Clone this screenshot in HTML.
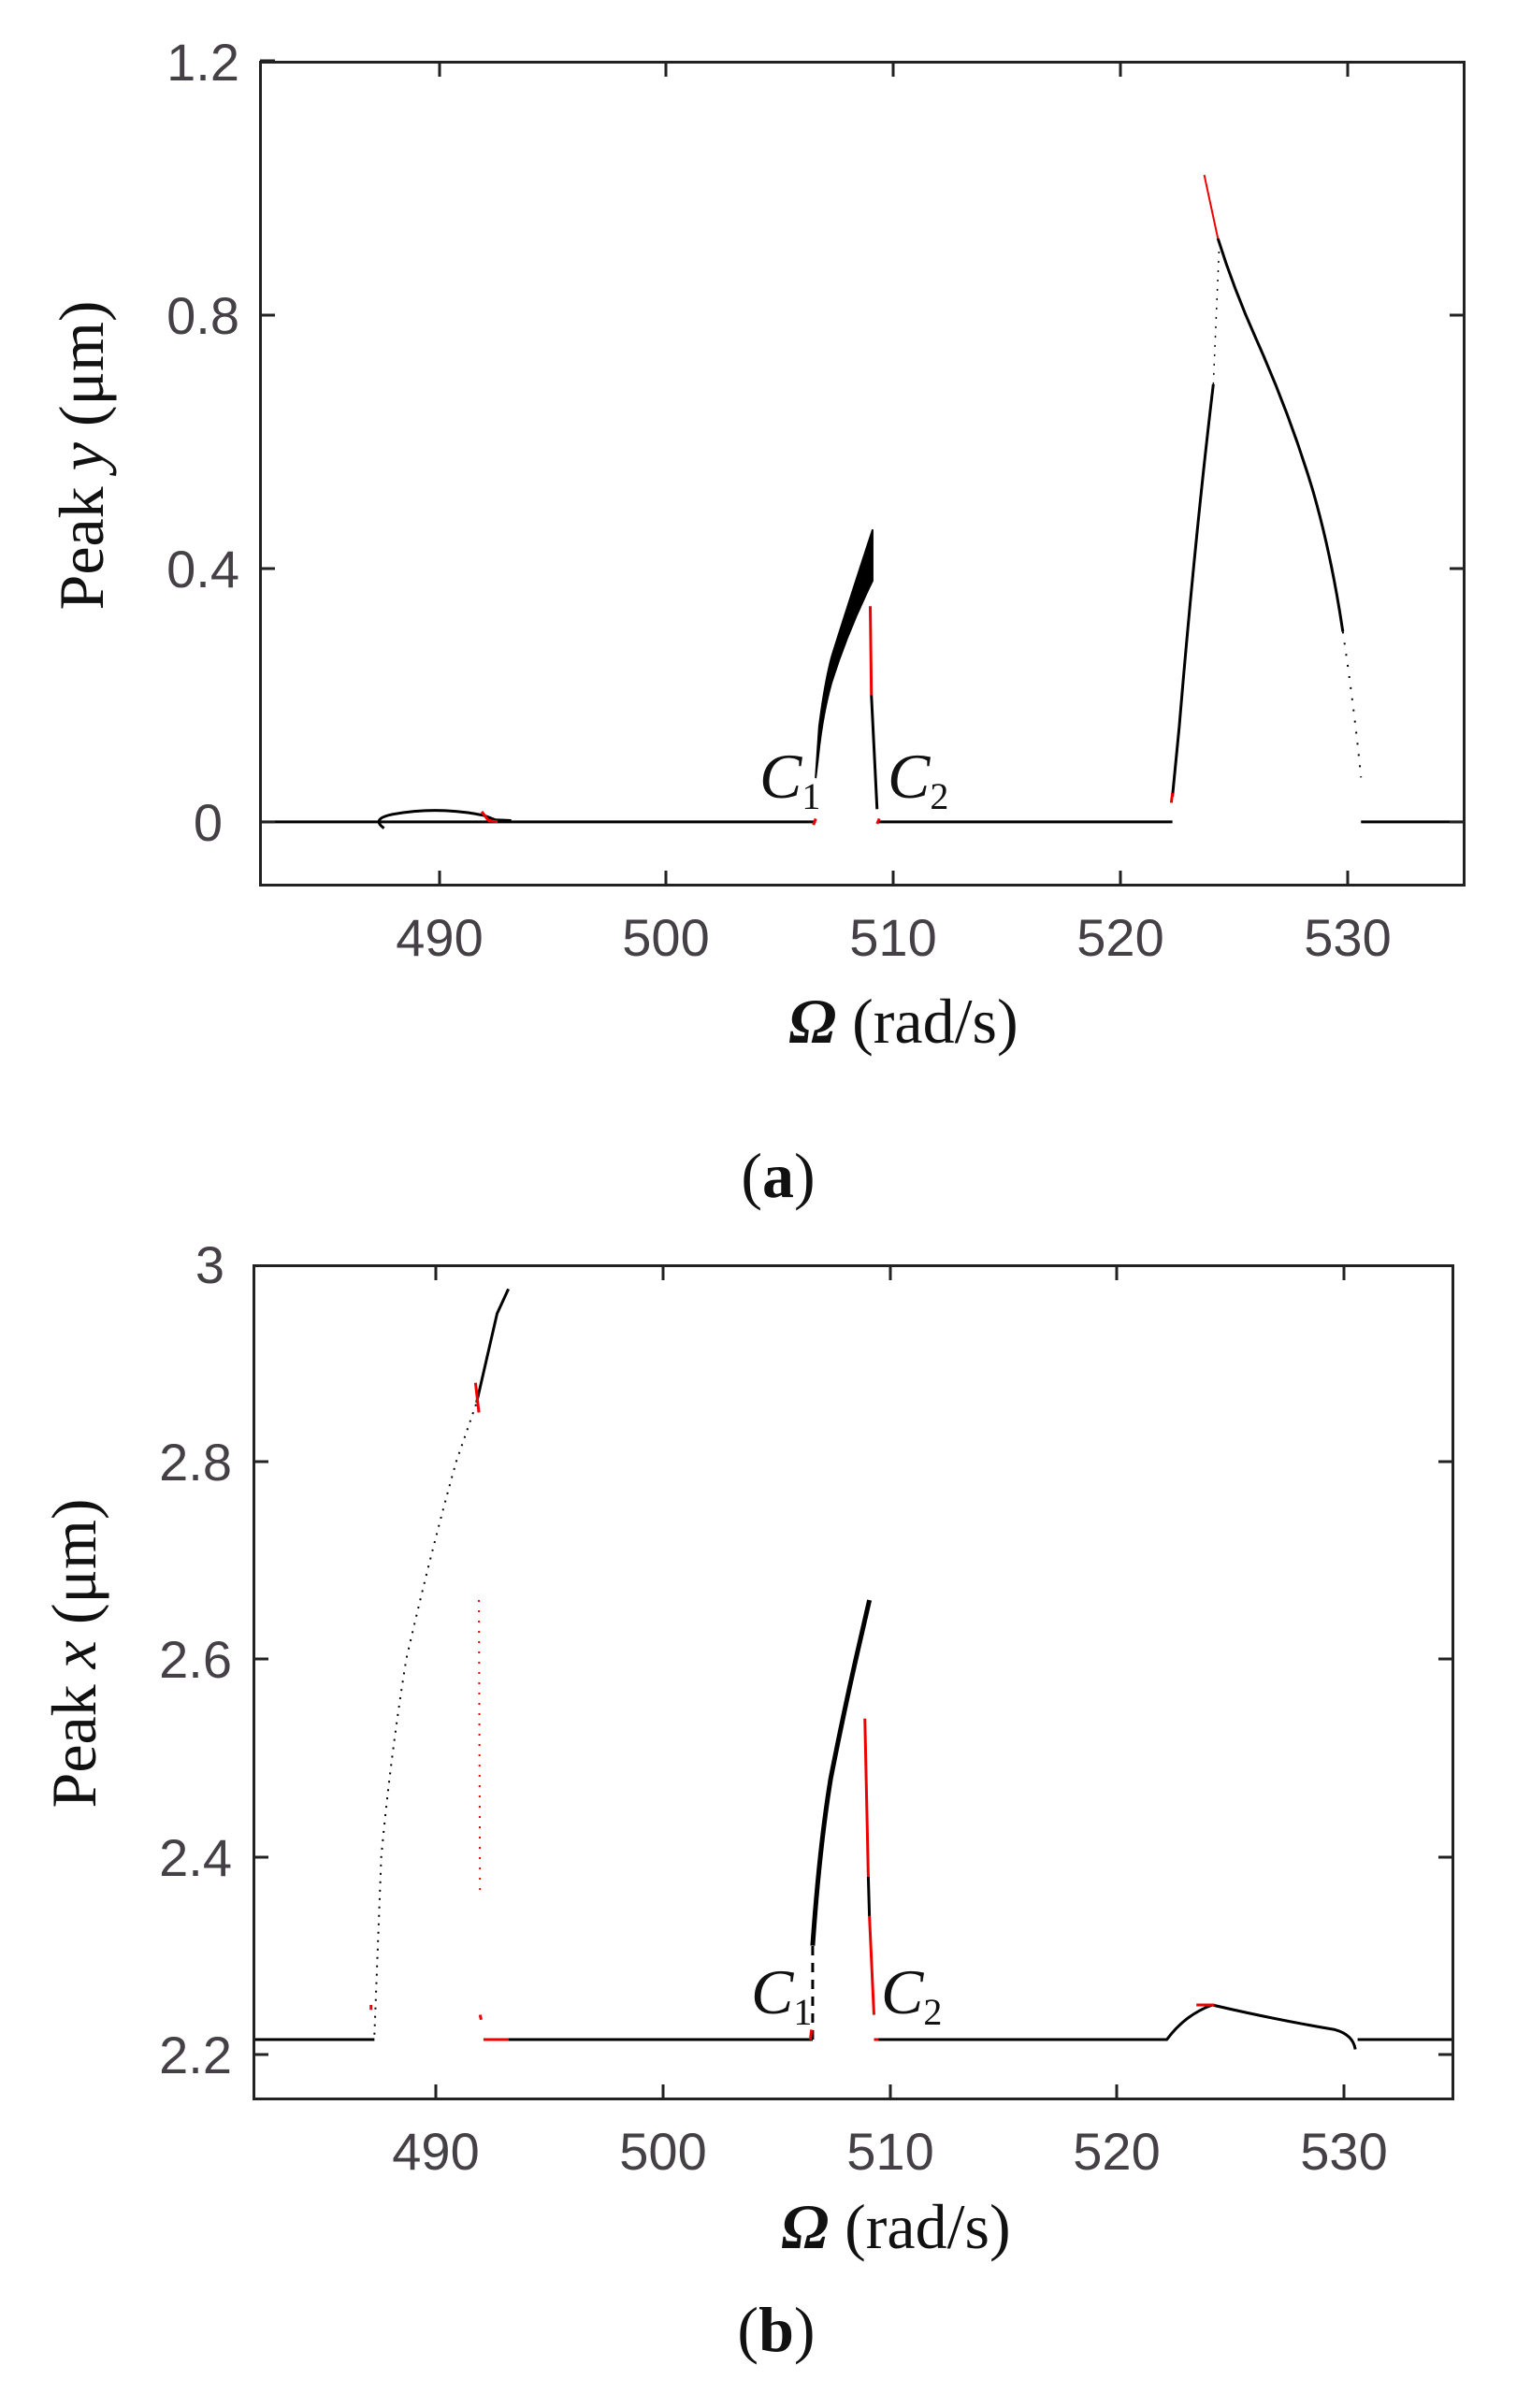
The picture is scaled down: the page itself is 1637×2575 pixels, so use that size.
<!DOCTYPE html>
<html><head><meta charset="utf-8"><style>
html,body{margin:0;padding:0;background:#fff;}
svg{display:block;}
.tk{font-family:"Liberation Sans",sans-serif;font-size:56px;fill:#454045;}
.lb{font-family:"Liberation Serif",serif;font-size:68px;fill:#111;}
</style></head><body>
<svg width="1637" height="2575" viewBox="0 0 1637 2575" xmlns="http://www.w3.org/2000/svg">
<!-- ===== Plot (a) ===== -->
<svg x="277" y="65" width="1290" height="883" viewBox="482.1 -1.2 53.1 1.302" preserveAspectRatio="none" overflow="hidden">
 <g transform="scale(1,-1)" fill="none" stroke-linejoin="round">
  <g stroke="#000" stroke-width="3">
   <path vector-effect="non-scaling-stroke" d="M482.1 0 L506.6 0 M509.3 0 L522.3 0 M530.6 0 L535.2 0"/>
   <path vector-effect="non-scaling-stroke" d="M487.6 -0.01 Q487 0.005 488 0.012 Q490 0.025 492 0.01 L492.5 0.003 L493.2 0.002"/>
   <path vector-effect="non-scaling-stroke" d="M522.3 0.04 L522.6 0.15 Q523.3 0.45 524.1 0.69"/>
   <path vector-effect="non-scaling-stroke" stroke-width="1.5" stroke-dasharray="2 8" d="M524.1 0.69 L524.35 0.9"/>
   <path vector-effect="non-scaling-stroke" d="M524.3 0.92 Q525 0.84 526 0.76 Q527.5 0.64 528.5 0.52 Q529.3 0.42 529.8 0.3"/>
   <path vector-effect="non-scaling-stroke" stroke-width="2" stroke-dasharray="2 10" d="M529.8 0.3 Q530.3 0.18 530.6 0.07"/>
   <path vector-effect="non-scaling-stroke" d="M509.05 0.2 L509.3 0.02"/>
  </g>
  <path fill="#000" stroke="#000" stroke-width="2" vector-effect="non-scaling-stroke" d="M506.6 0.07 L506.75 0.15 Q507 0.22 507.3 0.26 Q508 0.34 509.1 0.46 L509.1 0.38 Q508 0.3 507.3 0.22 Q506.9 0.17 506.7 0.1 Z"/>
  <g stroke="#e00" stroke-width="3">
   <path vector-effect="non-scaling-stroke" d="M509.0 0.34 L509.05 0.2"/>
   <path vector-effect="non-scaling-stroke" d="M491.9 0.016 L492.2 0.002 L492.6 0.0"/>
   <path vector-effect="non-scaling-stroke" d="M506.5 -0.005 L506.6 0.005 M509.3 -0.003 L509.4 0.005 M522.25 0.03 L522.3 0.045"/>
   <path vector-effect="non-scaling-stroke" stroke-width="2" d="M523.7 1.02 L524.3 0.92"/>
  </g>
 </g>
</svg>
<rect x="278.5" y="66.5" width="1287" height="880" fill="none" stroke="#222" stroke-width="3"/>
<g stroke="#222" stroke-width="3">
 <path d="M470 66v16M712 66v16M955 66v16M1198 66v16M1441 66v16 M470 947v-16M712 947v-16M955 947v-16M1198 947v-16M1441 947v-16"/>
 <path d="M278 879h16M278 608h16M278 337h16M278 65h16 M1566 879h-16M1566 608h-16M1566 337h-16"/>
</g>
<g class="tk" text-anchor="end">
 <text x="256" y="86">1.2</text><text x="256" y="357">0.8</text><text x="256" y="628">0.4</text><text x="238" y="899">0</text>
</g>
<g class="tk" text-anchor="middle">
 <text x="470" y="1022">490</text><text x="712" y="1022">500</text><text x="955" y="1022">510</text><text x="1198" y="1022">520</text><text x="1441" y="1022">530</text>
</g>
<text class="lb" x="812" y="853" font-style="italic" font-size="58">C<tspan font-style="normal" font-size="40" dy="12">1</tspan></text>
<text class="lb" x="949" y="853" font-style="italic" font-size="58">C<tspan font-style="normal" font-size="40" dy="12">2</tspan></text>
<text class="lb" transform="translate(110,487) rotate(-90)" text-anchor="middle">Peak <tspan font-style="italic">y</tspan> (μm)</text>
<text class="lb" x="966" y="1115" text-anchor="middle"><tspan font-style="italic" font-weight="bold">Ω</tspan> (rad/s)</text>
<text class="lb" x="832" y="1280" text-anchor="middle">(<tspan font-weight="bold">a</tspan>)</text>

<!-- ===== Plot (b) ===== -->
<svg x="270" y="1352" width="1285" height="894" viewBox="481.93 -3 52.93 0.8466" preserveAspectRatio="none" overflow="hidden">
 <g transform="scale(1,-1)" fill="none" stroke-linejoin="round">
  <g stroke="#000" stroke-width="3">
   <path vector-effect="non-scaling-stroke" d="M481.9 2.215 L487.3 2.215 M493.2 2.215 L506.6 2.215 M509.4 2.215 L522.2 2.215 Q523 2.24 524.2 2.25 Q527 2.235 529.6 2.225 Q530.4 2.22 530.5 2.205 M530.6 2.215 L535 2.215"/>
   <path vector-effect="non-scaling-stroke" stroke-width="2" stroke-dasharray="2 7" d="M487.3 2.22 L487.6 2.4 Q488 2.5 488.7 2.6 Q489.8 2.71 490.9 2.8 L491.8 2.86"/>
   <path vector-effect="non-scaling-stroke" d="M491.8 2.86 Q492.4 2.92 492.7 2.95 L493.2 2.975"/>
   <path vector-effect="non-scaling-stroke" stroke-dasharray="10 8" d="M506.6 2.215 L506.6 2.31"/>
   <path vector-effect="non-scaling-stroke" stroke-width="5" d="M506.6 2.31 Q506.9 2.41 507.4 2.48 Q508 2.55 508.6 2.61 L509.1 2.66"/>
   <path vector-effect="non-scaling-stroke" d="M509.05 2.38 L509.1 2.34"/>
  </g>
  <g stroke="#e00" stroke-width="3">
   <path vector-effect="non-scaling-stroke" d="M491.75 2.88 L491.9 2.85"/>
   <path vector-effect="non-scaling-stroke" stroke-width="2" stroke-dasharray="2 9" d="M491.9 2.66 L491.95 2.36"/>
   <path vector-effect="non-scaling-stroke" d="M491.95 2.24 L492 2.235 M487.15 2.25 L487.15 2.245 M492.1 2.215 L493.2 2.215 M506.5 2.215 L506.55 2.225 M509.3 2.215 L509.5 2.215 M523.5 2.25 L524.3 2.25"/>
   <path vector-effect="non-scaling-stroke" d="M508.9 2.54 L509.05 2.38 M509.1 2.34 L509.3 2.24"/>
  </g>
 </g>
</svg>
<rect x="271.5" y="1353.5" width="1282" height="891" fill="none" stroke="#222" stroke-width="3"/>
<g stroke="#222" stroke-width="3">
 <path d="M466 1353v16M709 1353v16M952 1353v16M1194 1353v16M1437 1353v16 M466 2245v-16M709 2245v-16M952 2245v-16M1194 2245v-16M1437 2245v-16"/>
 <path d="M271 2197h16M271 1986h16M271 1774h16M271 1563h16 M1554 2197h-16M1554 1986h-16M1554 1774h-16M1554 1563h-16"/>
</g>
<g class="tk" text-anchor="end">
 <text x="240" y="1372">3</text><text x="248" y="1583">2.8</text><text x="248" y="1794">2.6</text><text x="248" y="2006">2.4</text><text x="248" y="2217">2.2</text>
</g>
<g class="tk" text-anchor="middle">
 <text x="466" y="2320">490</text><text x="709" y="2320">500</text><text x="952" y="2320">510</text><text x="1194" y="2320">520</text><text x="1437" y="2320">530</text>
</g>
<text class="lb" x="803" y="2153" font-style="italic" font-size="58">C<tspan font-style="normal" font-size="40" dy="12">1</tspan></text>
<text class="lb" x="942" y="2153" font-style="italic" font-size="58">C<tspan font-style="normal" font-size="40" dy="12">2</tspan></text>
<text class="lb" transform="translate(102,1768) rotate(-90)" text-anchor="middle">Peak <tspan font-style="italic">x</tspan> (μm)</text>
<text class="lb" x="958" y="2404" text-anchor="middle"><tspan font-style="italic" font-weight="bold">Ω</tspan> (rad/s)</text>
<text class="lb" x="830" y="2514" text-anchor="middle">(<tspan font-weight="bold">b</tspan>)</text>
</svg>
</body></html>
